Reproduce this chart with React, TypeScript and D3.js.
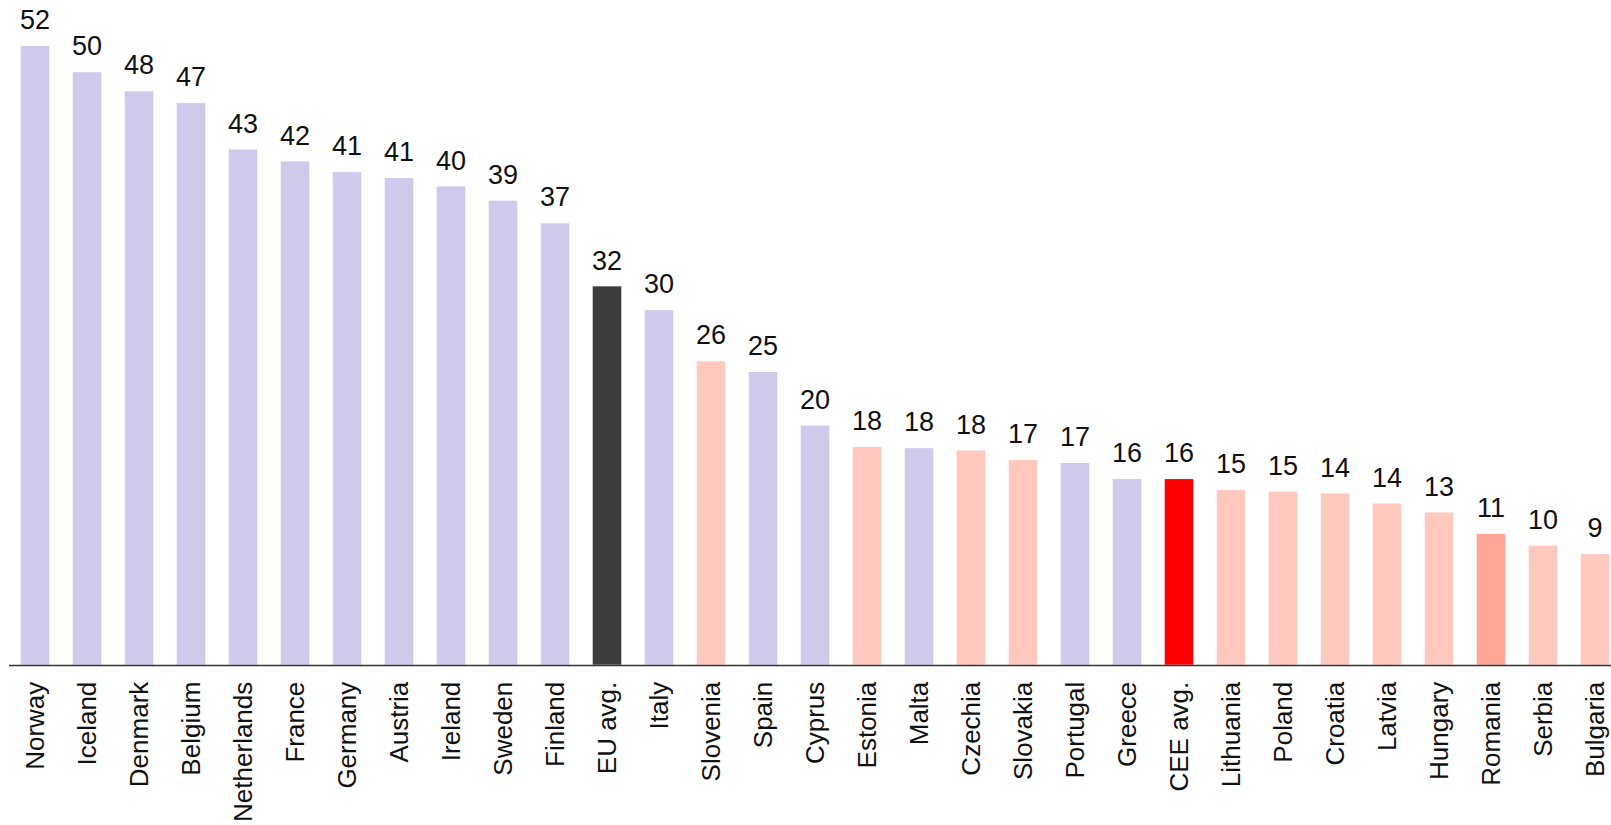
import React from "react";
import * as d3 from "d3";

const countries: string[] = [
  "Norway", "Iceland", "Denmark", "Belgium", "Netherlands", "France", "Germany", "Austria",
  "Ireland", "Sweden", "Finland", "EU avg.", "Italy", "Slovenia", "Spain", "Cyprus",
  "Estonia", "Malta", "Czechia", "Slovakia", "Portugal", "Greece", "CEE avg.", "Lithuania",
  "Poland", "Croatia", "Latvia", "Hungary", "Romania", "Serbia", "Bulgaria",
];

const values: number[] = [
  52.0, 49.8, 48.2, 47.2, 43.3, 42.3, 41.4, 40.9,
  40.2, 39.0, 37.1, 31.8, 29.8, 25.5, 24.6, 20.1,
  18.3, 18.2, 18.0, 17.2, 16.95, 15.6, 15.6, 14.7,
  14.55, 14.4, 13.55, 12.8, 11.0, 10.0, 9.3,
];

const labels: string[] = [
  "52", "50", "48", "47", "43", "42", "41", "41",
  "40", "39", "37", "32", "30", "26", "25", "20",
  "18", "18", "18", "17", "17", "16", "16", "15",
  "15", "14", "14", "13", "11", "10", "9",
];

// group: w = western (lavender), c = CEE (pink), eu = EU avg, cee = CEE avg, ro = Romania highlight
const groups: string[] = [
  "w", "w", "w", "w", "w", "w", "w", "w",
  "w", "w", "w", "eu", "w", "c", "w", "w",
  "c", "w", "c", "c", "w", "w", "cee", "c",
  "c", "c", "c", "c", "ro", "c", "c",
];

const colorMap: Record<string, string> = {
  w: "#cfc9ec",
  c: "#ffc9c0",
  eu: "#3d3d3d",
  cee: "#ff0000",
  ro: "#ffa797",
};

const W = 1611;
const H = 825;
const FONT = "'Liberation Sans', Arial, sans-serif";

export default function App() {
  const x = d3
    .scaleBand<string>()
    .domain(countries)
    .range([9, 9 + 52 * countries.length])
    .paddingInner(0.45)
    .paddingOuter(0.225);
  const y = d3.scaleLinear().domain([0, 52]).range([664.7, 46]);
  const baseY = y(0);

  return (
    <svg
      width={W}
      height={H}
      style={{ position: "fixed", top: 0, left: 0, background: "#fff" }}
      fontFamily={FONT}
    >
      {countries.map((c, i) => {
        const x0 = x(c) as number;
        const bw = x.bandwidth();
        const top = y(values[i]);
        return (
          <g key={c}>
            <rect
              x={x0}
              y={top}
              width={bw}
              height={baseY - top}
              fill={colorMap[groups[i]]}
            />
            <text
              x={x0 + bw / 2}
              y={top - 16.8}
              textAnchor="middle"
              fontSize={27}
              fill="#111"
            >
              {labels[i]}
            </text>
            <text
              transform={`translate(${x0 + bw / 2},${baseY + 17}) rotate(-90)`}
              textAnchor="end"
              dy="0.35em"
              fontSize={26}
              fill="#111"
            >
              {c}
            </text>
          </g>
        );
      })}
      <line x1={9} x2={W} y1={baseY + 0.8} y2={baseY + 0.8} stroke="#333" strokeWidth={1.6} />
    </svg>
  );
}
